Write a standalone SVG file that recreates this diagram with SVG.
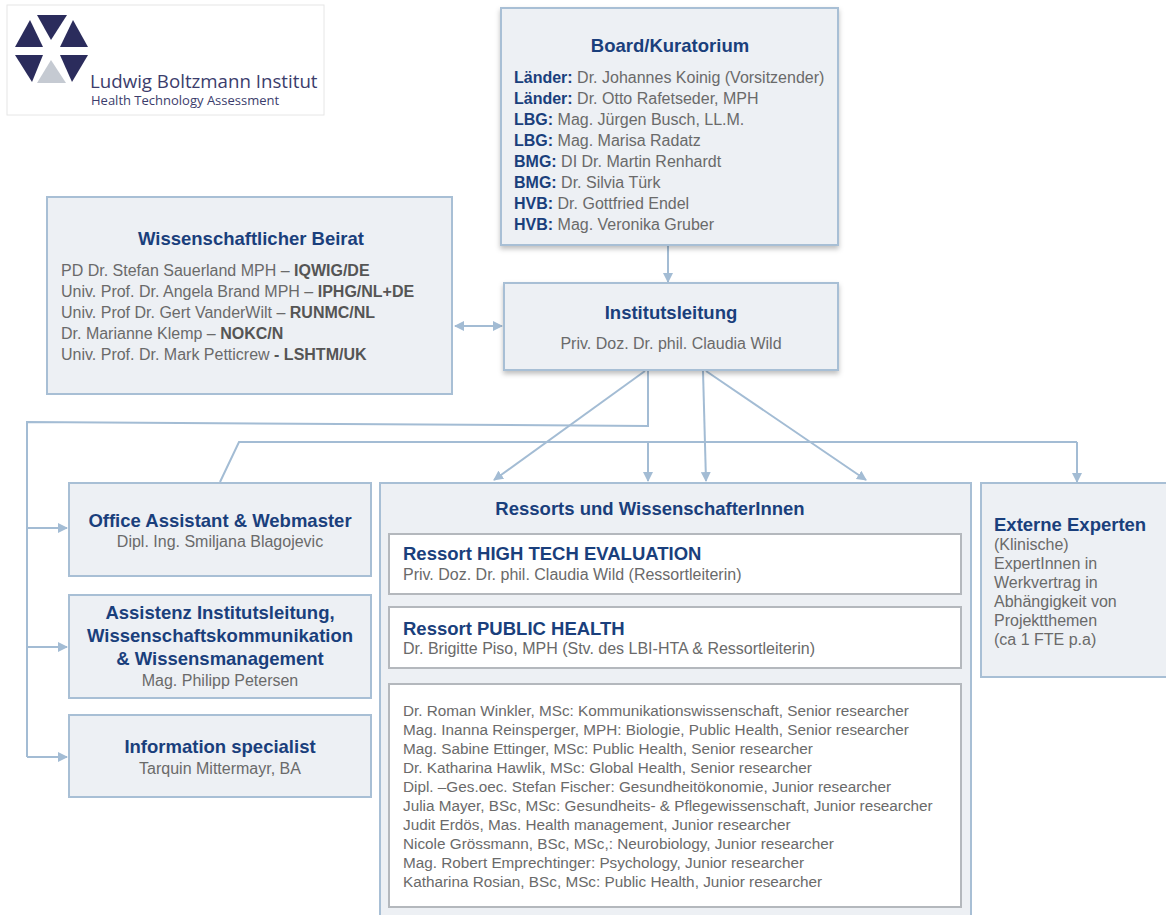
<svg xmlns="http://www.w3.org/2000/svg" width="1166" height="915" viewBox="0 0 1166 915">
<style>
.box{fill:#edf0f4;stroke:#a8bfd5;stroke-width:2}
.inner{fill:#ffffff;stroke:#b4b8bd;stroke-width:2}
.t{font-family:"Liberation Sans",Arial,sans-serif;font-weight:bold;fill:#1a3f7c;font-size:18.5px}
.b{font-family:"Liberation Sans",Arial,sans-serif;fill:#6a6a6a;font-size:16px}
.r{font-size:15.3px}
.lb{font-weight:bold;fill:#1a3f7c}
.ob{font-weight:bold;fill:#555555}
.c{fill:none;stroke:#a3bcd4;stroke-width:2}
.mid{text-anchor:middle}
</style>
<defs>
<marker id="ah" viewBox="0 0 10 10" refX="9" refY="5" markerWidth="5" markerHeight="5" orient="auto-start-reverse" markerUnits="strokeWidth">
<path d="M0,0 L10,5 L0,10 z" fill="#a3bcd4"/>
</marker>
<filter id="sh" x="-5%" y="-5%" width="110%" height="115%">
<feDropShadow dx="0" dy="3" stdDeviation="2.5" flood-color="#000" flood-opacity="0.25"/>
</filter>
</defs>
<rect width="1166" height="915" fill="#ffffff"/>

<g id="logo">
<rect x="7" y="5" width="317" height="110" fill="#fff" stroke="#e6e6e6" stroke-width="1"/>
<polygon points="37,15 67,15 51,40" fill="#2b2c5c"/>
<polygon points="15,47 43,47 30,20" fill="#2b2c5c"/>
<polygon points="60,47 88,47 73,20" fill="#2b2c5c"/>
<polygon points="15,55 43,55 32,82" fill="#2b2c5c"/>
<polygon points="60,55 88,55 72,82" fill="#2b2c5c"/>
<polygon points="51,60 37,83 66,83" fill="#c5cad2"/>
<text x="90" y="88" font-family="'Open Sans','Liberation Sans',sans-serif" font-size="18.7" fill="#3b3d6c">Ludwig Boltzmann Institut</text>
<text x="91" y="105" font-family="'Open Sans','Liberation Sans',sans-serif" font-size="13" fill="#3b3d6c">Health Technology Assessment</text>
</g>

<g id="connectors">
<line class="c" x1="668" y1="246" x2="668" y2="282" marker-end="url(#ah)"/>
<line class="c" x1="455" y1="326" x2="502" y2="326" marker-start="url(#ah)" marker-end="url(#ah)"/>
<polyline class="c" points="648,371 648,426 27,422 27,757"/>
<line class="c" x1="27" y1="528" x2="67" y2="528" marker-end="url(#ah)"/>
<line class="c" x1="27" y1="647" x2="67" y2="647" marker-end="url(#ah)"/>
<line class="c" x1="27" y1="757" x2="67" y2="757" marker-end="url(#ah)"/>
<polyline class="c" points="220,482 239,442 1077,442"/>
<line class="c" x1="648" y1="442" x2="648" y2="481" marker-end="url(#ah)"/>
<line class="c" x1="1077" y1="442" x2="1077" y2="482" marker-end="url(#ah)"/>
<line class="c" x1="645" y1="371" x2="494" y2="480" marker-end="url(#ah)"/>
<line class="c" x1="703" y1="371" x2="706" y2="481" marker-end="url(#ah)"/>
<line class="c" x1="706" y1="371" x2="866" y2="480" marker-end="url(#ah)"/>
</g>

<g id="board">
<rect class="box" x="501" y="8" width="337" height="237" filter="url(#sh)"/>
<text class="t mid" x="670" y="52" font-size="20">Board/Kuratorium</text>
<text class="b" x="514" y="83" font-size="15.5"><tspan class="lb">Länder:</tspan> Dr. Johannes Koinig (Vorsitzender)</text>
<text class="b" x="514" y="104" font-size="15.5"><tspan class="lb">Länder:</tspan> Dr. Otto Rafetseder, MPH</text>
<text class="b" x="514" y="125" font-size="15.5"><tspan class="lb">LBG:</tspan> Mag. Jürgen Busch, LL.M.</text>
<text class="b" x="514" y="146" font-size="15.5"><tspan class="lb">LBG:</tspan> Mag. Marisa Radatz</text>
<text class="b" x="514" y="167" font-size="15.5"><tspan class="lb">BMG:</tspan> DI Dr. Martin  Renhardt</text>
<text class="b" x="514" y="188" font-size="15.5"><tspan class="lb">BMG:</tspan> Dr. Silvia Türk</text>
<text class="b" x="514" y="209" font-size="15.5"><tspan class="lb">HVB:</tspan> Dr. Gottfried Endel</text>
<text class="b" x="514" y="230" font-size="15.5"><tspan class="lb">HVB:</tspan> Mag. Veronika Gruber</text>
</g>

<g id="beirat">
<rect class="box" x="47" y="197" width="405" height="197"/>
<text class="t mid" x="251" y="245" font-size="18">Wissenschaftlicher Beirat</text>
<text class="b" x="61" y="276" font-size="17">PD Dr. Stefan Sauerland MPH – <tspan class="ob">IQWIG/DE</tspan></text>
<text class="b" x="61" y="297" font-size="17">Univ. Prof. Dr. Angela Brand MPH – <tspan class="ob">IPHG/NL+DE</tspan></text>
<text class="b" x="61" y="318" font-size="17">Univ. Prof Dr. Gert VanderWilt – <tspan class="ob">RUNMC/NL</tspan></text>
<text class="b" x="61" y="339" font-size="17">Dr. Marianne Klemp – <tspan class="ob">NOKC/N</tspan></text>
<text class="b" x="61" y="360" font-size="17">Univ. Prof. Dr. Mark Petticrew <tspan class="ob">- LSHTM/UK</tspan></text>
</g>

<g id="institutsleitung">
<rect class="box" x="504" y="283" width="334" height="87" filter="url(#sh)"/>
<text class="t mid" x="671" y="319" font-size="20">Institutsleitung</text>
<text class="b mid" x="671" y="349">Priv. Doz. Dr. phil. Claudia Wild</text>
</g>

<g id="office">
<rect class="box" x="69" y="483" width="302" height="93"/>
<text class="t mid" x="220" y="527">Office Assistant &amp; Webmaster</text>
<text class="b mid" x="220" y="547">Dipl. Ing. Smiljana Blagojevic</text>
</g>

<g id="assistenz">
<rect class="box" x="69" y="595" width="302" height="103"/>
<text class="t mid" x="220" y="619">Assistenz Institutsleitung,</text>
<text class="t mid" x="220" y="642">Wissenschaftskommunikation</text>
<text class="t mid" x="220" y="665">&amp; Wissensmanagement</text>
<text class="b mid" x="220" y="686">Mag. Philipp Petersen</text>
</g>

<g id="infospec">
<rect class="box" x="69" y="715" width="302" height="82"/>
<text class="t mid" x="220" y="753">Information specialist</text>
<text class="b mid" x="220" y="774">Tarquin Mittermayr, BA</text>
</g>

<g id="ressorts">
<rect class="box" x="380" y="483" width="591" height="440"/>
<text class="t mid" x="650" y="515" font-size="18">Ressorts und WissenschafterInnen</text>
</g>

<g id="hightech">
<rect class="inner" x="389" y="534" width="572" height="60"/>
<text class="t" x="403" y="560">Ressort HIGH TECH EVALUATION</text>
<text class="b" x="403" y="580">Priv. Doz. Dr. phil. Claudia Wild (Ressortleiterin)</text>
</g>

<g id="publichealth">
<rect class="inner" x="389" y="607" width="572" height="61"/>
<text class="t" x="403" y="635">Ressort PUBLIC HEALTH</text>
<text class="b" x="403" y="654">Dr. Brigitte Piso,  MPH (Stv. des LBI-HTA &amp; Ressortleiterin)</text>
</g>

<g id="researchers">
<rect class="inner" x="389" y="684" width="572" height="223"/>
<text class="b r" x="403" y="716">Dr. Roman Winkler, MSc: Kommunikationswissenschaft, Senior researcher</text>
<text class="b r" x="403" y="735">Mag. Inanna Reinsperger, MPH: Biologie, Public Health, Senior researcher</text>
<text class="b r" x="403" y="754">Mag. Sabine Ettinger,  MSc: Public Health, Senior researcher</text>
<text class="b r" x="403" y="773">Dr.  Katharina Hawlik, MSc: Global Health, Senior researcher</text>
<text class="b r" x="403" y="792">Dipl. –Ges.oec. Stefan Fischer: Gesundheitökonomie, Junior researcher</text>
<text class="b r" x="403" y="811">Julia Mayer, BSc, MSc: Gesundheits- &amp; Pflegewissenschaft, Junior researcher</text>
<text class="b r" x="403" y="830">Judit Erdös, Mas. Health management, Junior researcher</text>
<text class="b r" x="403" y="849">Nicole Grössmann, BSc, MSc,: Neurobiology, Junior researcher</text>
<text class="b r" x="403" y="868">Mag. Robert Emprechtinger: Psychology, Junior researcher</text>
<text class="b r" x="403" y="887">Katharina Rosian, BSc, MSc: Public Health, Junior researcher</text>
</g>

<g id="externe">
<rect class="box" x="981" y="483" width="195" height="194"/>
<text class="t" x="994" y="531">Externe Experten</text>
<text class="b" x="994" y="550">(Klinische)</text>
<text class="b" x="994" y="569">ExpertInnen in</text>
<text class="b" x="994" y="588">Werkvertrag in</text>
<text class="b" x="994" y="607">Abhängigkeit von</text>
<text class="b" x="994" y="626">Projektthemen</text>
<text class="b" x="994" y="645">(ca 1 FTE p.a)</text>
</g>
</svg>
